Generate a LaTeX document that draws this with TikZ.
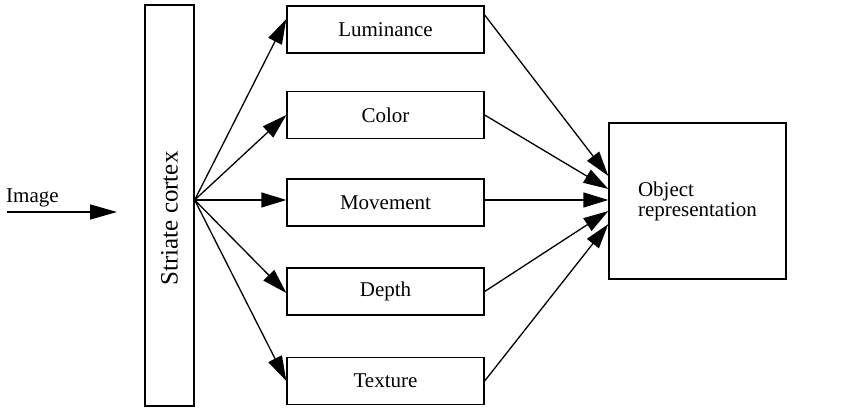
\documentclass[tikz,border=0pt]{standalone}
\usepackage{fontspec}
\setmainfont{Liberation Serif}
\usetikzlibrary{arrows.meta,calc}
\begin{document}
\begin{tikzpicture}[x=1pt,y=-1pt,
  every node/.style={font=\fontsize{21}{20}\selectfont},
  box/.style={draw,line width=1.3pt,inner sep=0pt,minimum width=197pt,minimum height=47pt},
  conn/.style={line width=1.3pt,-{Triangle[length=25pt,width=15pt]}}]
\useasboundingbox (0,0) rectangle (860,411);
% striate cortex
\node[draw,line width=1.3pt,inner sep=0pt,minimum width=49pt,minimum height=401pt] (sc) at (169.5,205.5) {};
\node[rotate=90,font=\fontsize{25}{25}\selectfont] (sct) at ([yshift=-13pt]sc.center) {Striate cortex};
% feature boxes
\node[box] (lum) at (385.5,29.5) {Luminance};
\node[box] (col) at (385.5,115) {Color};
\node[box] (mov) at (385.5,202.5) {Movement};
\node[box] (dep) at (385.5,291.5) {Depth};
\node[box] (tex) at (385.5,381) {Texture};
% object representation
\node[draw,line width=1.3pt,inner sep=0pt,minimum width=177pt,minimum height=156pt,align=left] (obj) at (697.5,201) {Object\\representation};
% image input
\node[anchor=base west,inner sep=0pt] (img) at (6,203) {Image};
\coordinate (imgs) at (7,212);
\coordinate (imge) at (117,212);
\draw[conn,-{Triangle[length=27pt,width=15pt]}] (imgs) -- (imge);
% fan out
\coordinate (src) at ([yshift=5.5pt]sc.east);
\draw[conn] (src) -- ([yshift=10.5pt]lum.west);
\draw[conn] (src) -- (col.west);
\draw[conn] (src) -- ([yshift=2.5pt]mov.west);
\draw[conn] (src) -- ([yshift=-1.5pt]dep.west);
\draw[conn] (src) -- (tex.west);
% fan in
\draw[conn] ([yshift=14.5pt]lum.east) -- ([yshift=25pt]obj.west);
\draw[conn] (col.east) -- ([yshift=12pt]obj.west);
\draw[conn] ([yshift=2.5pt]mov.east) -- ([yshift=1pt]obj.west);
\draw[conn] (dep.east) -- ([yshift=-10pt]obj.west);
\draw[conn] (tex.east) -- ([yshift=-23pt]obj.west);
\end{tikzpicture}
\end{document}
